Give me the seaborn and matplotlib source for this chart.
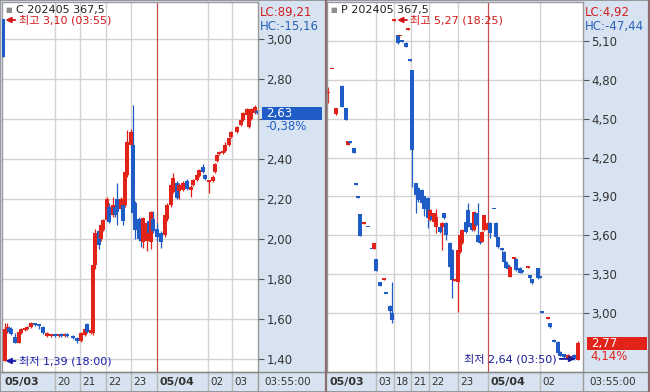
import numpy as np
import pandas as pd
import matplotlib.pyplot as plt
import matplotlib.transforms as mtransforms
from matplotlib.patches import Rectangle
from matplotlib.lines import Line2D
import seaborn as sns

# ---- call option (left) : slot = bar index on the session axis ----
c_slot = [0, 1, 2, 3, 4, 6, 8, 9, 11, 12, 14, 16, 18, 20, 22, 24, 26, 28, 29, 31,
          32, 35, 37, 39, 41, 42, 44, 45, 46, 48, 49, 50, 52, 53, 55, 56, 57, 59, 60, 61,
          62, 64, 65, 66, 68, 69, 70, 72, 73, 74, 75, 77, 79, 81, 82, 84, 85, 87, 88, 90,
          92, 94, 95, 97, 98, 100, 101, 103, 105, 106, 107, 108, 110, 111, 113, 114, 117, 119, 120, 122,
          123, 124, 126, 127]
c_open = [3.10, 1.39, 1.54, 1.555, 1.55, 1.51, 1.48, 1.53, 1.545, 1.55, 1.56, 1.575, 1.57, 1.56, 1.515, 1.515, 1.52, 1.515, 1.525, 1.515,
          1.525, 1.515, 1.505, 1.49, 1.52, 1.575, 1.53, 1.53, 1.87, 2.04, 2.00, 2.045, 2.095, 2.16, 2.12, 2.16, 2.20, 2.15, 2.17, 2.17,
          2.32, 2.47, 2.47, 2.18, 2.10, 2.04, 1.985, 1.99, 2.09, 1.985, 2.10, 2.05, 2.03, 2.02, 2.10, 2.17, 2.235, 2.28, 2.24, 2.245,
          2.29, 2.245, 2.27, 2.295, 2.315, 2.36, 2.32, 2.285, 2.29, 2.335, 2.39, 2.425, 2.43, 2.44, 2.47, 2.51, 2.535, 2.57, 2.595, 2.62,
          2.56, 2.60, 2.63, 2.64]
c_close = [2.91, 1.55, 1.56, 1.535, 1.525, 1.48, 1.535, 1.55, 1.555, 1.56, 1.58, 1.57, 1.565, 1.53, 1.53, 1.52, 1.515, 1.52, 1.515, 1.525,
           1.515, 1.505, 1.49, 1.53, 1.55, 1.535, 1.545, 1.87, 2.03, 1.97, 2.07, 2.095, 2.20, 2.085, 2.17, 2.12, 2.135, 2.20, 2.09, 2.335,
           2.485, 2.535, 2.13, 2.045, 2.00, 1.99, 2.105, 2.08, 2.03, 2.135, 2.04, 2.01, 1.985, 2.12, 2.17, 2.27, 2.305, 2.205, 2.27, 2.28,
           2.25, 2.26, 2.295, 2.32, 2.345, 2.335, 2.30, 2.29, 2.31, 2.375, 2.42, 2.435, 2.44, 2.47, 2.505, 2.535, 2.56, 2.595, 2.63, 2.65,
           2.62, 2.65, 2.66, 2.63]
c_high = [3.10, 1.58, 1.58, 1.565, 1.56, 1.53, 1.54, 1.555, 1.56, 1.565, 1.585, 1.58, 1.575, 1.565, 1.535, 1.525, 1.525, 1.525, 1.53, 1.53,
          1.53, 1.52, 1.51, 1.535, 1.56, 1.58, 1.55, 1.87, 2.05, 2.06, 2.08, 2.10, 2.21, 2.18, 2.21, 2.17, 2.28, 2.21, 2.18, 2.34,
          2.545, 2.55, 2.67, 2.19, 2.11, 2.05, 2.11, 2.09, 2.10, 2.14, 2.14, 2.08, 2.04, 2.13, 2.18, 2.28, 2.33, 2.29, 2.28, 2.29,
          2.30, 2.27, 2.30, 2.325, 2.35, 2.375, 2.325, 2.29, 2.32, 2.38, 2.425, 2.44, 2.445, 2.485, 2.51, 2.54, 2.565, 2.60, 2.635, 2.655,
          2.625, 2.655, 2.67, 2.645]
c_low = [2.91, 1.39, 1.53, 1.53, 1.52, 1.48, 1.48, 1.525, 1.54, 1.545, 1.555, 1.565, 1.55, 1.525, 1.51, 1.51, 1.51, 1.51, 1.51, 1.51,
         1.51, 1.50, 1.48, 1.485, 1.515, 1.53, 1.525, 1.52, 1.85, 1.95, 1.99, 2.04, 2.09, 2.08, 2.11, 2.11, 2.07, 2.14, 2.07, 2.16,
         2.31, 2.46, 2.10, 2.00, 1.99, 1.96, 1.955, 1.94, 2.02, 1.95, 2.03, 1.99, 1.955, 2.01, 2.09, 2.16, 2.23, 2.20, 2.20, 2.24,
         2.245, 2.21, 2.265, 2.29, 2.31, 2.33, 2.295, 2.23, 2.285, 2.33, 2.385, 2.42, 2.425, 2.435, 2.465, 2.505, 2.53, 2.565, 2.59, 2.615,
         2.555, 2.595, 2.625, 2.625]

# ---- put option (right) ----
p_slot = [0, 2, 4, 7, 9, 10, 11, 13, 14, 15, 16, 18, 20, 22, 23, 24, 26, 28, 29, 31,
          32, 33, 35, 36, 37, 39, 40, 41, 42, 44, 45, 47, 48, 50, 51, 52, 53, 54, 56, 57,
          58, 59, 61, 62, 63, 65, 66, 67, 69, 70, 72, 73, 74, 75, 76, 77, 78, 80, 81, 83,
          84, 85, 87, 88, 89, 90, 91, 93, 94, 96, 97, 100, 101, 102, 105, 106, 107, 110, 111, 113,
          115, 116, 118, 120, 121, 123, 125]
p_open = [4.695, 4.88, 4.535, 4.755, 4.58, 4.30, 4.33, 4.27, 3.995, 3.895, 3.765, 3.69, 3.665, 3.495, 3.495, 3.42, 3.24, 3.255, 3.15, 3.055,
          3.00, 5.255, 5.145, 5.135, 5.10, 5.085, 5.185, 4.95, 4.875, 4.00, 3.965, 3.95, 3.90, 3.89, 3.72, 3.75, 3.70, 3.665, 3.665, 3.665,
          3.77, 3.695, 3.54, 3.485, 3.25, 3.24, 3.47, 3.54, 3.70, 3.795, 3.695, 3.64, 3.77, 3.60, 3.59, 3.55, 3.64, 3.64, 3.695, 3.805,
          3.695, 3.585, 3.50, 3.47, 3.395, 3.37, 3.28, 3.415, 3.42, 3.35, 3.33, 3.35, 3.29, 3.26, 3.345, 3.275, 3.005, 2.955, 2.92, 2.78,
          2.775, 2.70, 2.68, 2.65, 2.645, 2.675, 2.64]
p_close = [4.705, 4.885, 4.58, 4.59, 4.49, 4.33, 4.315, 4.235, 3.99, 3.89, 3.595, 3.70, 3.66, 3.49, 3.54, 3.325, 3.21, 3.26, 3.145, 3.015,
           2.945, 5.27, 5.085, 5.14, 5.095, 5.055, 5.19, 4.945, 4.26, 3.91, 3.87, 3.85, 3.80, 3.73, 3.795, 3.72, 3.77, 3.74, 3.625, 3.695,
           3.73, 3.60, 3.355, 3.255, 3.255, 3.485, 3.60, 3.64, 3.625, 3.665, 3.64, 3.78, 3.68, 3.55, 3.54, 3.625, 3.755, 3.695, 3.62, 3.80,
           3.585, 3.51, 3.485, 3.395, 3.35, 3.34, 3.355, 3.42, 3.33, 3.31, 3.315, 3.355, 3.27, 3.23, 3.27, 3.27, 3.00, 2.96, 2.89, 2.775,
           2.69, 2.67, 2.66, 2.675, 2.665, 2.645, 2.77]
p_high = [4.745, 4.885, 4.58, 4.76, 4.58, 4.33, 4.33, 4.27, 3.995, 3.895, 3.765, 3.70, 3.665, 3.495, 3.54, 3.42, 3.24, 3.26, 3.15, 3.06,
          3.24, 5.27, 5.15, 5.14, 5.10, 5.09, 5.19, 4.95, 4.875, 4.00, 3.97, 3.955, 3.905, 3.895, 3.80, 3.755, 3.775, 3.80, 3.67, 3.70,
          3.775, 3.70, 3.545, 3.49, 3.26, 3.49, 3.605, 3.645, 3.705, 3.85, 3.70, 3.785, 3.775, 3.85, 3.595, 3.63, 3.76, 3.70, 3.70, 3.805,
          3.70, 3.59, 3.505, 3.475, 3.40, 3.375, 3.36, 3.42, 3.425, 3.355, 3.335, 3.355, 3.295, 3.265, 3.35, 3.275, 3.005, 2.96, 2.925, 2.80,
          2.78, 2.705, 2.685, 2.68, 2.67, 2.68, 2.78]
p_low = [4.62, 4.88, 4.53, 4.59, 4.49, 4.30, 4.315, 4.235, 3.99, 3.89, 3.595, 3.69, 3.66, 3.49, 3.49, 3.325, 3.21, 3.255, 3.145, 2.99,
         2.92, 5.255, 5.08, 5.135, 5.095, 5.05, 5.185, 4.945, 3.97, 3.77, 3.86, 3.84, 3.75, 3.655, 3.71, 3.715, 3.695, 3.62, 3.62, 3.485,
         3.725, 3.56, 3.35, 3.115, 3.245, 3.01, 3.465, 3.535, 3.62, 3.66, 3.635, 3.635, 3.675, 3.545, 3.535, 3.545, 3.635, 3.635, 3.58, 3.80,
         3.58, 3.505, 3.48, 3.39, 3.345, 3.335, 3.275, 3.415, 3.325, 3.305, 3.31, 3.35, 3.265, 3.225, 3.265, 3.27, 3.00, 2.955, 2.885, 2.775,
         2.685, 2.665, 2.655, 2.645, 2.64, 2.64, 2.64]

# axis labels
c_yticks = [1.40, 1.60, 1.80, 2.00, 2.20, 2.40, 2.60, 2.80, 3.00]
c_ylabels = ['1,40', '1,60', '1,80', '2,00', '2,20', '2,40', '', '2,80', '3,00']
p_yticks = [3.00, 3.30, 3.60, 3.90, 4.20, 4.50, 4.80, 5.10]
p_ylabels = ['3,00', '3,30', '3,60', '3,90', '4,20', '4,50', '4,80', '5,10']

c_xticks = [-0.5, 26, 38.5, 51.5, 64, 77, 102.5, 114.5]
c_xlabels = ['05/03', '20', '21', '22', '23', '05/04', '02', '03']
p_xticks = [-0.5, 24, 33, 41.5, 50.5, 65, 80, 106]
p_xlabels = ['05/03', '03', '18', '21', '22', '23', '05/04', '02']
date_labels = ['05/03', '05/04']

RED = '#e2231a'
BLUE = '#1f5cc6'
STRIP = '#d7e3f0'
GRID = '#d3d3d3'

sns.set_theme(style='white')
plt.rcParams['font.family'] = ['DejaVu Sans', 'Noto Sans CJK KR']

W, H = 650, 392
fig = plt.figure(figsize=(W / 100, H / 100), dpi=100)
fig.patch.set_facecolor(STRIP)


def draw_panel(left_px, df, ylim, yticks, ylabels, xticks, xlabels, dayline, info):
    ax = fig.add_axes([left_px / W, 20 / H, 256 / W, 370 / H])
    ax.set_facecolor('white')
    ax.set_xlim(-0.5, 127.5)
    ax.set_ylim(*ylim)

    # grid
    for y in yticks:
        ax.axhline(y, color=GRID, lw=1, zorder=0)
    for x in xticks[1:]:
        if x == dayline:
            ax.axvline(x, color='#c2504c', lw=0.9, zorder=0)
        else:
            ax.axvline(x, color=GRID, lw=1, zorder=0)

    # candles
    up = df['close'] >= df['open']
    colors = np.where(up, RED, BLUE)
    min_h = (ylim[1] - ylim[0]) / 370 * 1.8
    ax.vlines(df['slot'], df['low'], df['high'], colors=colors, lw=0.9, zorder=2)
    body = (df['close'] - df['open']).abs().clip(lower=min_h)
    ax.bar(df['slot'], body, bottom=df[['open', 'close']].min(axis=1),
           width=1.6, color=colors, linewidth=0, zorder=3)

    # y axis on the right strip
    ax.yaxis.tick_right()
    ax.set_yticks(yticks)
    ax.set_yticklabels(ylabels)
    ax.tick_params(axis='y', right=True, length=4, width=0.8, color='#555555',
                   pad=2, labelsize=8.5, labelcolor='#333333')
    ax.set_xticks([])
    for s in ax.spines.values():
        s.set_color('#9a9a9a')
        s.set_linewidth(1)

    # time labels in bottom strip
    trans = mtransforms.blended_transform_factory(ax.transData, ax.transAxes)
    for x, lab in zip(xticks, xlabels):
        bold = lab in date_labels
        ax.annotate(lab, xy=(x, 0), xycoords=trans, xytext=(1.5, -7.3),
                    textcoords='offset points', ha='left', va='center',
                    fontsize=8 if bold else 7.5, fontweight='bold' if bold else 'normal',
                    color='#333333', annotation_clip=False)
        if x > 0:
            ax.plot([x, x], [0, -20 / 370], transform=trans, color='#b8b8b8',
                    lw=1, clip_on=False)
    ax.plot([1, 1], [0, -20 / 370], transform=ax.transAxes, color='#9a9a9a',
            lw=1, clip_on=False)
    ax.text(1.117, -10 / 370, '03:55:00', transform=ax.transAxes, ha='center',
            va='center', fontsize=7.5, color='#333333')

    # header
    ax.text(0.012, 0.978, '■', transform=ax.transAxes, fontsize=5, color='#8c8c8c',
            va='center', ha='left')
    ax.text(0.055, 0.978, info['name'], transform=ax.transAxes, fontsize=8,
            color='#222222', va='center', ha='left')
    ax.text(1.008, 0.972, info['lc'], transform=ax.transAxes, fontsize=8.5,
            color='#d02020', va='center', ha='left')
    ax.text(1.008, 0.934, info['hc'], transform=ax.transAxes, fontsize=8.5,
            color='#2a62b8', va='center', ha='left')

    # current price box
    tax = mtransforms.blended_transform_factory(ax.transAxes, ax.transData)
    ph = (ylim[1] - ylim[0]) / 370
    last = info['last']
    ax.add_patch(Rectangle((1.016, last - 7 * ph), 0.235, 13 * ph, transform=tax,
                           color=info['boxc'], clip_on=False, lw=0))
    ax.text(1.03, last - 0.5 * ph, info['last_txt'], transform=tax, color='white',
            fontsize=8.5, va='center', ha='left')
    ax.text(1.03, last - 13.5 * ph, info['chg'], transform=tax, color=info['boxc'],
            fontsize=8.5, va='center', ha='left')

    # high / low markers
    for (xy, txt, col, side) in info['marks']:
        dx = 9.5 if side == 'r' else -13.5
        ax.annotate(txt, xy=xy, xytext=(dx, 0), textcoords='offset points',
                    ha='left' if side == 'r' else 'right', va='center',
                    fontsize=8, color=col, annotation_clip=False,
                    arrowprops=dict(arrowstyle='-|>', color=col, lw=1.3,
                                    mutation_scale=8, shrinkA=0, shrinkB=0))
    return ax


call_df = pd.DataFrame({'slot': c_slot, 'open': c_open, 'close': c_close,
                        'high': c_high, 'low': c_low})
put_df = pd.DataFrame({'slot': p_slot, 'open': p_open, 'close': p_close,
                       'high': p_high, 'low': p_low})

draw_panel(2, call_df, (1.335, 3.185), c_yticks, c_ylabels, c_xticks, c_xlabels, 77,
           {'name': 'C 202405 367,5', 'lc': 'LC:89,21', 'hc': 'HC:-15,16',
            'last': 2.63, 'last_txt': '2,63', 'chg': '-0,38%', 'boxc': BLUE,
            'marks': [((1.2, 3.095), '최고 3,10 (03:55)', '#d01818', 'r'),
                      ((1.3, 1.39), '최저 1,39 (18:00)', '#1c1cb0', 'r')]})
draw_panel(327, put_df, (2.544, 5.401), p_yticks, p_ylabels, p_xticks, p_xlabels, 80,
           {'name': 'P 202405 367,5', 'lc': 'LC:4,92', 'hc': 'HC:-47,44',
            'last': 2.77, 'last_txt': '2,77', 'chg': '4,14%', 'boxc': RED,
            'marks': [((34.6, 5.262), '최고 5,27 (18:25)', '#d01818', 'r'),
                      ((123.6, 2.645), '최저 2,64 (03:50)', '#1a1a9a', 'l')]})

# frame lines
fig.add_artist(Line2D([0, 1], [20 / H, 20 / H], color='#8a8a8a', lw=1))
fig.add_artist(Line2D([325.5 / W, 325.5 / W], [0, 1], color='#8a6e6e', lw=1.6))
fig.add_artist(Line2D([649 / W, 649 / W], [0, 1], color='#8a6e6e', lw=1.6))
fig.add_artist(Rectangle((0, 0), 1, 1, transform=fig.transFigure, fill=False,
                         ec='#8a8a8a', lw=1.2))

fig.savefig('out.png', dpi=100)
